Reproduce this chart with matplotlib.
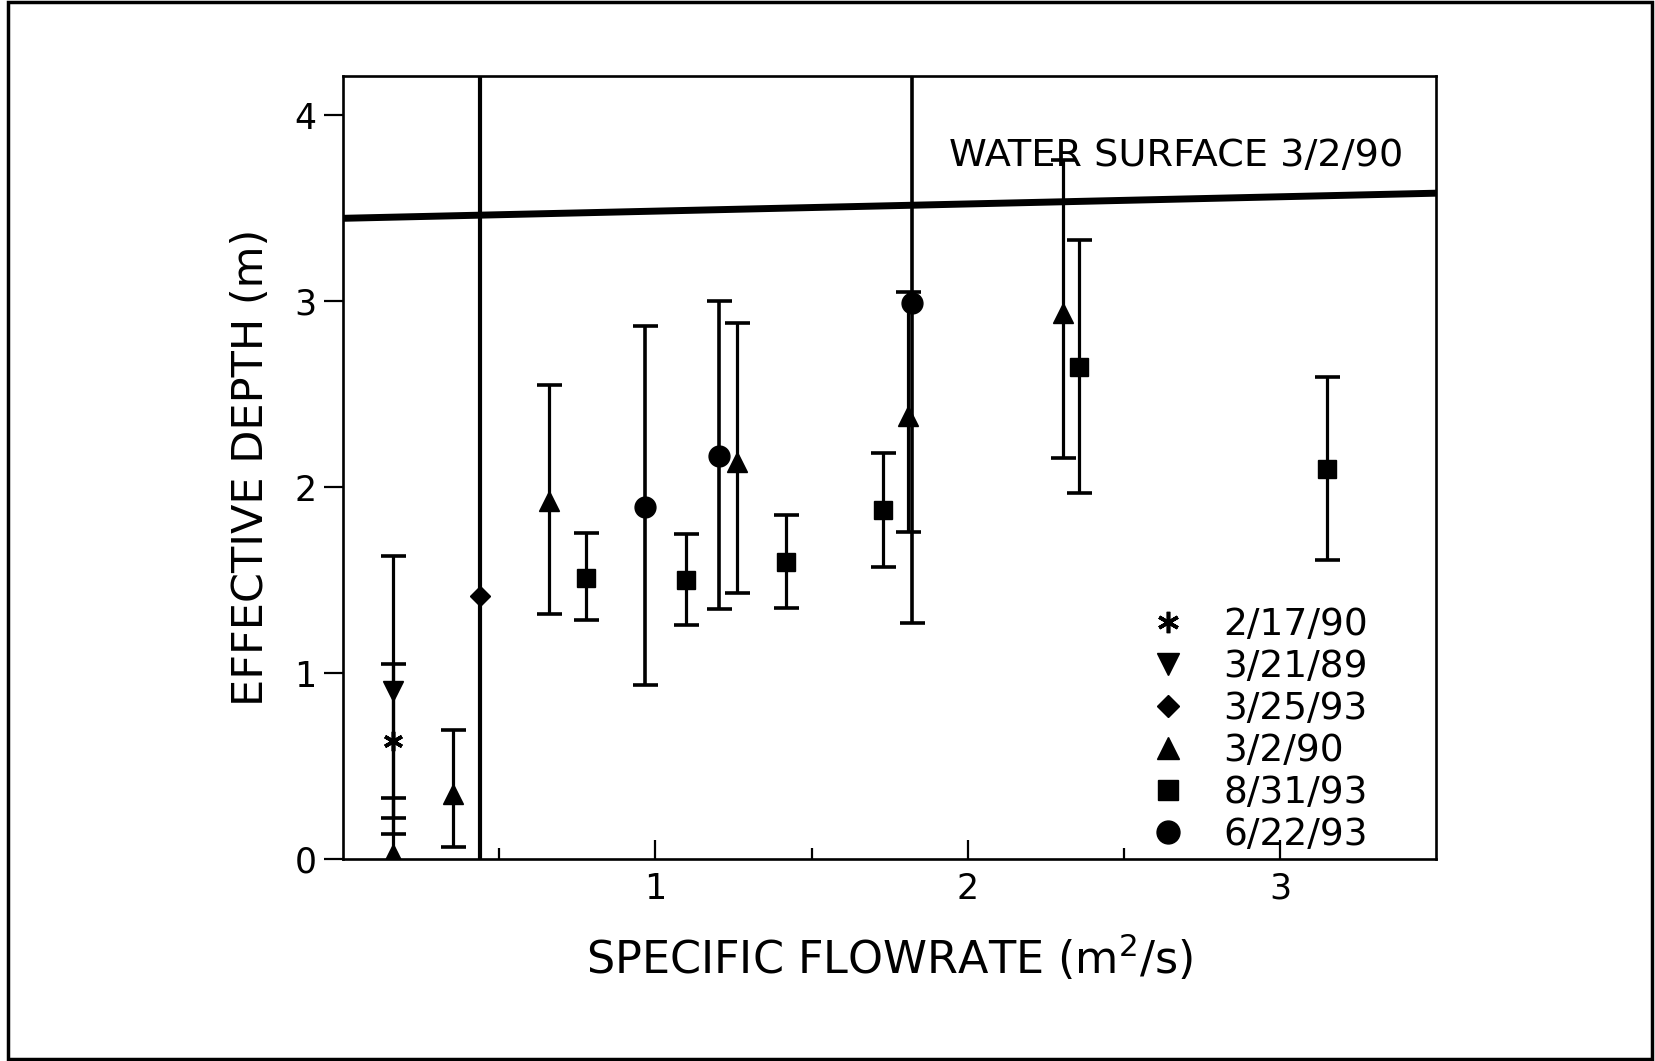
import matplotlib
matplotlib.use("Agg")
import matplotlib.pyplot as plt
from matplotlib.lines import Line2D
from matplotlib.patches import Rectangle

plt.rcParams['font.family'] = ['DejaVu Sans']
plt.rcParams['mathtext.default'] = 'regular'

# --- data (specific flowrate m2/s, effective depth m) ---
labels = ['2/17/90', '3/21/89', '3/25/93', '3/2/90', '8/31/93', '6/22/93']

x_21790 = [0.158]
y_21790 = [0.636]
lo_21790 = [0.221]
hi_21790 = [1.051]

x_32189 = [0.158]
y_32189 = [0.905]
lo_32189 = [0.135]
hi_32189 = [1.629]

x_32593 = [0.438]
y_32593 = [1.414]
lo_32593 = [-0.3]
hi_32593 = [4.6]

x_3290 = [0.158, 0.350, 0.658, 1.261, 1.809, 2.306]
y_3290 = [0.028, 0.350, 1.924, 2.134, 2.381, 2.936]
lo_3290 = [-0.3, 0.067, 1.321, 1.433, 1.760, 2.157]
hi_3290 = [0.332, 0.693, 2.551, 2.885, 3.050, 3.758]

x_83193 = [0.778, 1.098, 1.419, 1.729, 2.356, 3.150]
y_83193 = [1.513, 1.499, 1.597, 1.880, 2.646, 2.098]
lo_83193 = [1.284, 1.257, 1.352, 1.570, 1.969, 1.611]
hi_83193 = [1.755, 1.746, 1.848, 2.184, 3.329, 2.592]

x_62293 = [0.968, 1.205, 1.820]
y_62293 = [1.894, 2.166, 2.989]
lo_62293 = [0.935, 1.343, 1.272]
hi_62293 = [2.868, 2.998, 4.6]

# water surface line of 3/2/90
ws_x = [0.0, 3.5]
ws_y = [3.445, 3.58]

fig = plt.figure(figsize=(16.55, 10.61), dpi=100)
ax = fig.add_axes([0.2074, 0.1901, 0.6603, 0.7383])

series = [
    (x_21790, y_21790, lo_21790, hi_21790, dict(marker=(6, 2, 0), ms=14, mew=2.6), 2.3),
    (x_32189, y_32189, lo_32189, hi_32189, dict(marker='v', ms=14), 2.3),
    (x_32593, y_32593, lo_32593, hi_32593, dict(marker='D', ms=10), 3.0),
    (x_3290, y_3290, lo_3290, hi_3290, dict(marker='^', ms=14), 2.3),
    (x_83193, y_83193, lo_83193, hi_83193, dict(marker='s', ms=13), 2.3),
    (x_62293, y_62293, lo_62293, hi_62293, dict(marker='o', ms=15), 2.6),
]

handles = []
for (xs, ys, lo, hi, mk, elw), lab in zip(series, labels):
    yerr = [[y - l for y, l in zip(ys, lo)], [h - y for y, h in zip(ys, hi)]]
    ax.errorbar(xs, ys, yerr=yerr, fmt='none', ecolor='black',
                elinewidth=elw, capsize=9, capthick=2.6)
    ax.plot(xs, ys, linestyle='none', color='black', mfc='black', mec='black', **mk)
    handles.append(Line2D([], [], linestyle='none', color='black', mfc='black',
                          mec='black', label=lab, **mk))

ax.plot(ws_x, ws_y, color='black', linewidth=5, solid_capstyle='butt')
ax.text(1.94, 3.78, 'WATER SURFACE 3/2/90', fontsize=27.5, va='center', ha='left')

ax.set_xlim(0, 3.5)
ax.set_ylim(0, 4.21)
ax.set_xticks([1, 2, 3])
ax.set_xticks([0.5, 1.5, 2.5], minor=True)
ax.set_yticks([0, 1, 2, 3, 4])
ax.tick_params(axis='x', which='major', direction='in', length=14, width=1.6,
               labelsize=25, pad=9)
ax.tick_params(axis='x', which='minor', direction='in', length=8, width=1.6)
ax.tick_params(axis='y', direction='out', length=14, width=1.6, labelsize=25, pad=5)
for sp in ax.spines.values():
    sp.set_linewidth(1.9)

ax.set_xlabel('SPECIFIC FLOWRATE (m$^2$/s)', fontsize=32, labelpad=19)
ax.set_ylabel('EFFECTIVE DEPTH (m)', fontsize=31, labelpad=16)

ax.legend(handles=handles, loc='center left', bbox_to_anchor=(0.738, 0.165),
          frameon=False, fontsize=27, borderpad=0, borderaxespad=0,
          handlelength=1.0, handletextpad=0.97, labelspacing=0.16, markerscale=1.1)

# page border of the scanned figure
fig.add_artist(Rectangle((0.005, 0.002), 0.993, 0.996, transform=fig.transFigure,
                         fill=False, linewidth=2.5, edgecolor='black'))

fig.savefig('out.png', dpi=100)
